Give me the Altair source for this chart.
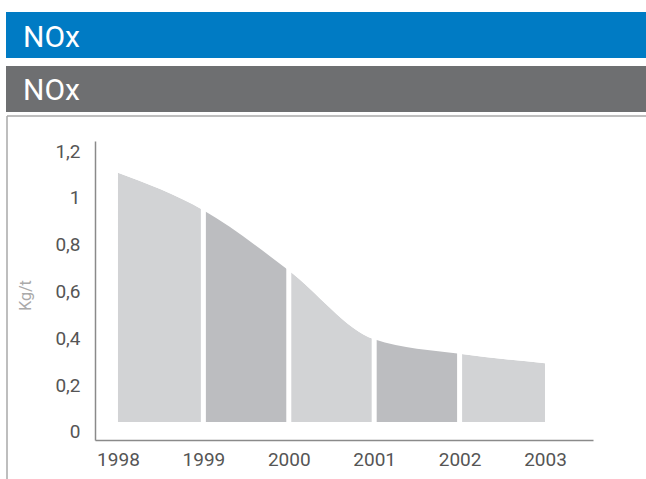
import altair as alt
import pandas as pd

years = [1998, 1999, 2000, 2001, 2002, 2003]
values = [1.064, 0.904, 0.647, 0.353, 0.291, 0.251]
dark_start = [1999, 2001]
dark_end = [2000, 2002]
separators = [1999, 2000, 2001, 2002]
y_ticks = [0, 0.2, 0.4, 0.6, 0.8, 1.0, 1.2]
y_top = 1.2
header_text = "NOx"
y_title = "Kg/t"

FONT = "Roboto, sans-serif"

df = pd.DataFrame({"year": years, "value": values, "top": [y_top] * len(years)})
dark = pd.DataFrame({"start": dark_start, "end": dark_end, "lo": [0] * 2, "hi": [y_top] * 2})
seps = pd.DataFrame({"year": separators, "lo": [-0.01] * 4, "hi": [y_top] * 4})
one = pd.DataFrame({"a": [0]})

xscale = alt.Scale(domain=[1997.731, 2003.562], nice=False, zero=False)
yscale = alt.Scale(domain=[-0.077, 1.2], nice=False, zero=False)

x_axis = alt.Axis(values=years, format="d", tickSize=0, domainColor="#8a8a8a", domainWidth=1.5,
                  labelFont=FONT, labelFontSize=19, labelColor="#555555", labelPadding=10,
                  grid=False, title=None)
y_axis = alt.Axis(values=y_ticks, tickSize=0, domainColor="#8a8a8a", domainWidth=1.5,
                  labelFont=FONT, labelFontSize=19, labelColor="#555555", labelPadding=15,
                  labelOffset=10, grid=False,
                  labelExpr="replace(format(datum.value, '.1~f'), '.', ',')",
                  title=y_title, titleFont=FONT, titleFontSize=16, titleFontWeight="normal",
                  titleColor="#aaaaaa", titleAngle=270, titleX=-70, titleY=154,
                  titleAlign="center", titleBaseline="middle")

area = alt.Chart(df).mark_area(interpolate="monotone", color="#D2D3D5").encode(
    x=alt.X("year:Q", scale=xscale, axis=x_axis),
    y=alt.Y("value:Q", scale=yscale, axis=y_axis),
    y2=alt.datum(0),
)

dark_rects = alt.Chart(dark).mark_rect(color="#BCBDC0").encode(
    x=alt.X("start:Q", scale=xscale),
    x2="end:Q",
    y=alt.Y("lo:Q", scale=yscale),
    y2="hi:Q",
)

mask = alt.Chart(df).mark_area(interpolate="monotone", color="white").encode(
    x=alt.X("year:Q", scale=xscale),
    y=alt.Y("value:Q", scale=yscale),
    y2="top:Q",
)

sep_rules = alt.Chart(seps).mark_rule(color="white", strokeWidth=5).encode(
    x=alt.X("year:Q", scale=xscale),
    y=alt.Y("lo:Q", scale=yscale),
    y2="hi:Q",
)

blue_bar = alt.Chart(one).mark_rect(color="#007BC4").encode(
    x=alt.value(-89), x2=alt.value(560), y=alt.value(-129), y2=alt.value(-83))
gray_bar = alt.Chart(one).mark_rect(color="#6E6F71").encode(
    x=alt.value(-89), x2=alt.value(560), y=alt.value(-75), y2=alt.value(-29))
blue_text = alt.Chart(one).mark_text(color="white", font=FONT, fontSize=30, align="left",
                                     baseline="alphabetic").encode(
    x=alt.value(-72), y=alt.value(-94), text=alt.value(header_text))
gray_text = alt.Chart(one).mark_text(color="white", font=FONT, fontSize=30, align="left",
                                     baseline="alphabetic").encode(
    x=alt.value(-72), y=alt.value(-41), text=alt.value(header_text))
box_top = alt.Chart(one).mark_rule(color="#a8a8a8", strokeWidth=1.5).encode(
    x=alt.value(-88), x2=alt.value(560), y=alt.value(-25))
box_left = alt.Chart(one).mark_rule(color="#a8a8a8", strokeWidth=1.5).encode(
    x=alt.value(-88), y=alt.value(-25), y2=alt.value(345))

chart = alt.layer(
    blue_bar, gray_bar, blue_text, gray_text, box_top, box_left,
    area, dark_rects, mask, sep_rules,
).properties(
    width=498, height=299,
    padding={"left": 95, "top": 141, "right": 53, "bottom": 39},
    autosize=alt.AutoSizeParams(type="none"),
    view=alt.ViewBackground(stroke="white", strokeWidth=0, strokeOpacity=0, fill="white"),
).configure_view(strokeWidth=0, stroke="white", strokeOpacity=0).configure(background="white")

chart.save("out.html", embed_options={"renderer": "svg", "actions": False})
